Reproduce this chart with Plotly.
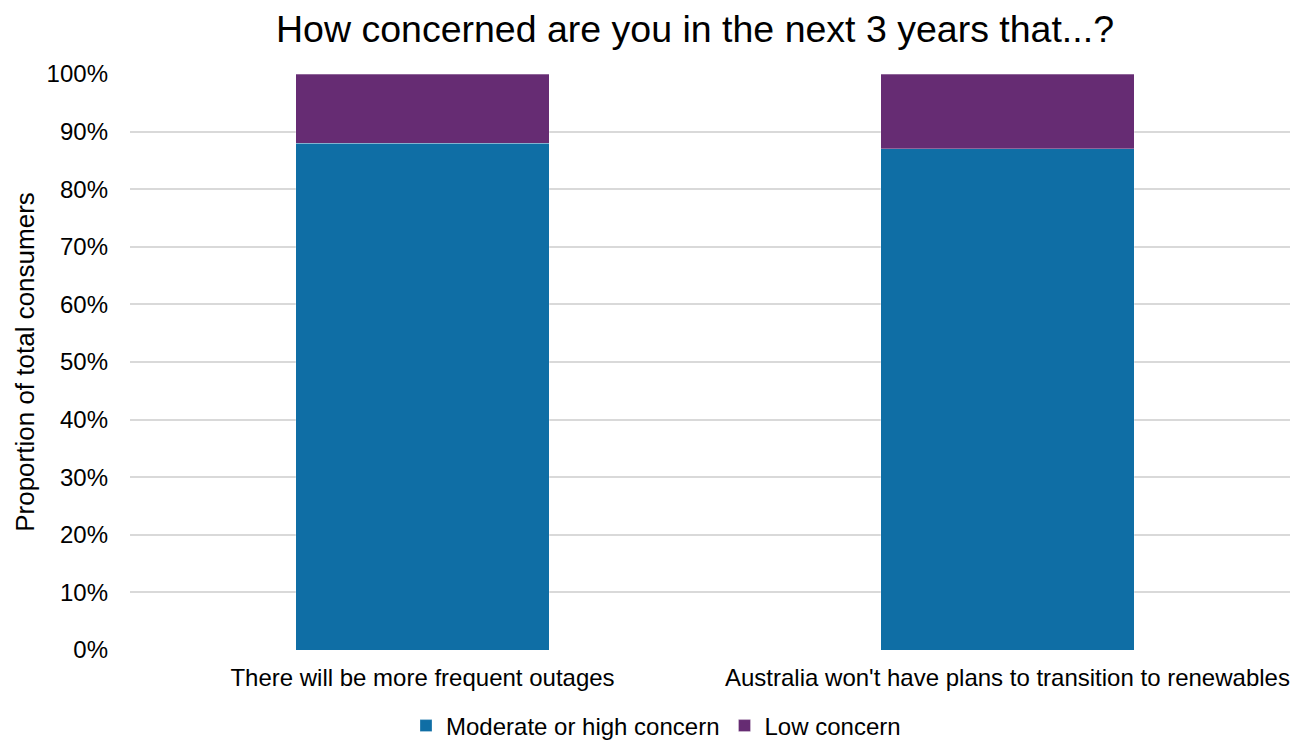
import plotly.graph_objects as go

categories = ["There will be more frequent outages",
              "Australia won't have plans to transition to renewables"]
moderate_high = [88, 87]
low = [12, 13]
series_names = ["Moderate or high concern", "Low concern"]
colors = ["#0F6EA5", "#662C73"]
y_ticks = [0, 10, 20, 30, 40, 50, 60, 70, 80, 90, 100]
y_tick_labels = [f"{v}%" for v in y_ticks]

FONT = "Liberation Sans, Arial, sans-serif"
W, H = 1290, 742

fig = go.Figure()
for name, vals, col in zip(series_names, [moderate_high, low], colors):
    fig.add_trace(go.Bar(
        x=categories, y=vals, name=name,
        marker=dict(color=col, line=dict(color="rgba(255,255,255,0.35)", width=0.8)),
        width=0.433,
    ))

fig.update_layout(
    barmode="stack",
    width=W, height=H,
    paper_bgcolor="white", plot_bgcolor="white",
    margin=dict(l=130, r=0, t=74, b=92, autoexpand=False),
    font=dict(family=FONT, color="#000000", size=24),
    title=dict(text="How concerned are you in the next 3 years that...?",
               x=695/W, xref="container", xanchor="center",
               y=1 - 29/H, yref="container", yanchor="middle",
               font=dict(size=37.5, family=FONT, color="#000000")),
    xaxis=dict(range=[-0.5, 1.483], showgrid=False, zeroline=False,
               showline=False, ticks="", tickfont=dict(size=24),
               ticklabelstandoff=11, automargin=False),
    yaxis=dict(range=[0, 100], tickvals=y_ticks, ticktext=y_tick_labels,
               showgrid=True, gridcolor="#D9D9D9", gridwidth=2,
               zeroline=False, showline=False, ticks="",
               ticklabelstandoff=21, tickfont=dict(size=24), automargin=False,
               title=dict(text="Proportion of total consumers",
                          font=dict(size=26), standoff=4)),
    legend=dict(orientation="h", xref="container", x=656/W, xanchor="center",
                yref="paper", y=-76/576, yanchor="middle",
                font=dict(size=24), itemwidth=30, traceorder="normal",
                itemclick=False),
    showlegend=True,
)

fig.write_html(
    "out.html",
    config={"displayModeBar": False},
    post_script="document.body.style.margin='0';document.body.style.overflow='hidden';",
)
